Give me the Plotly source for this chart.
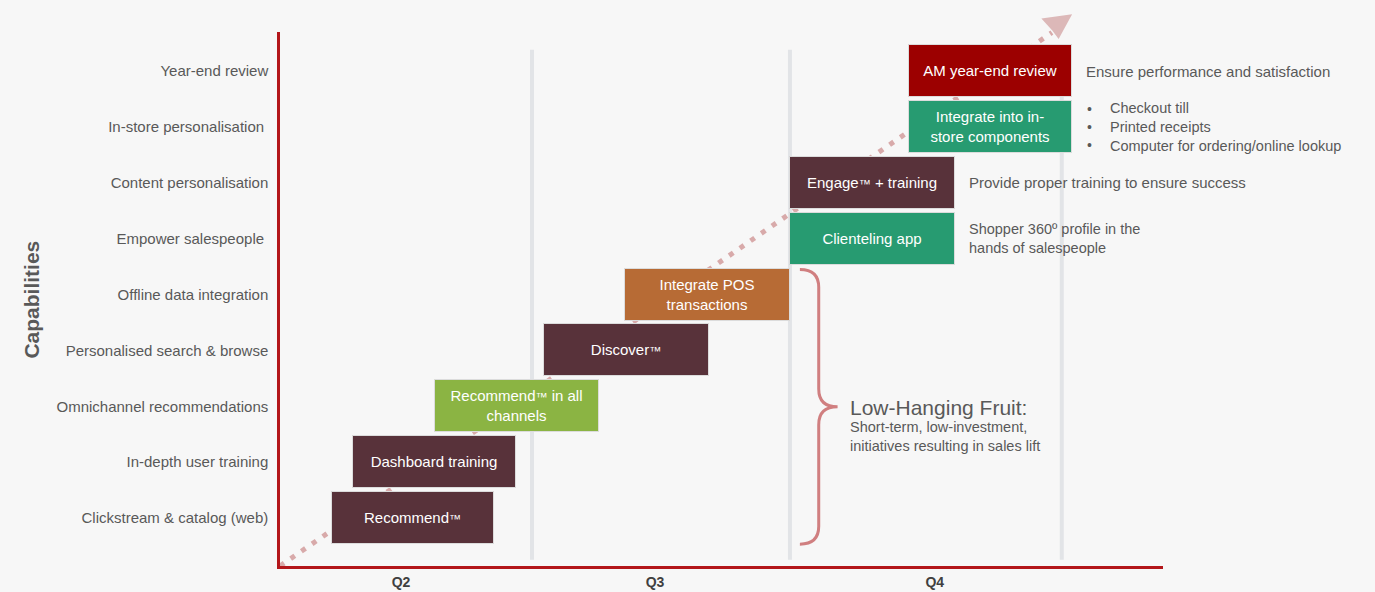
import plotly.graph_objects as go

# ---------------- data ----------------
TM = '<span style="font-size:12px">\u2122</span>'
capabilities = [
    "Clickstream & catalog (web)",
    "In-depth user training",
    "Omnichannel recommendations",
    "Personalised search & browse",
    "Offline data integration",
    "Empower salespeople\u00a0",
    "Content personalisation",
    "In-store personalisation\u00a0",
    "Year-end review",
]
initiatives = [
    f"Recommend{TM}",
    "Dashboard training",
    f"Recommend{TM} in all<br>channels",
    f"Discover{TM}",
    "Integrate POS<br>transactions",
    "Clienteling app",
    f"Engage{TM} + training",
    "Integrate into in-<br>store components",
    "AM year-end review",
]
# timeline in weeks from start of Q2
start_week = [2.6, 3.7, 7.8, 13.3, 17.4, 25.7, 25.7, 31.7, 31.7]
end_week = [10.8, 11.9, 16.1, 21.6, 25.7, 34.0, 34.0, 39.9, 39.9]
quarter_labels = ["Q2", "Q3", "Q4"]
quarter_label_week = [6.1, 18.9, 33.0]
quarter_boundary_week = [12.7, 25.7, 39.4]

bar_colors = ["#58323a", "#58323a", "#8bb443", "#58323a", "#b76b35",
              "#279b71", "#58323a", "#279b71", "#9c0000"]

FONT = "Liberation Sans, Arial, sans-serif"
GREY = "#595959"
xr = [0, 44.5]
yr = [-0.86, 8.70]


def xp(x):
    return (x - xr[0]) / (xr[1] - xr[0])


def yp(y):
    return (y - yr[0]) / (yr[1] - yr[0])


rows = list(range(len(capabilities)))
fig = go.Figure()
fig.add_trace(go.Bar(
    orientation="h",
    y=rows,
    base=start_week,
    x=[e - s for s, e in zip(start_week, end_week)],
    width=0.93,
    marker=dict(color=bar_colors, line=dict(color="#dcdcdc", width=1)),
    text=initiatives,
    textposition="inside",
    insidetextanchor="middle",
    textangle=0,
    constraintext="none",
    textfont=dict(color="white", size=15, family=FONT),
    hoverinfo="skip",
    showlegend=False,
))

shapes = []
# quarter separators
for b in quarter_boundary_week:
    shapes.append(dict(type="line", xref="x", yref="y", x0=b, x1=b, y0=-0.75, y1=8.38,
                       line=dict(color="#e2e4e7", width=4), layer="below"))
# dotted growth arrow
shapes.append(dict(type="line", xref="paper", yref="paper",
                   x0=xp(0), y0=yp(-0.86), x1=xp(38.9), y1=yp(8.69),
                   line=dict(color="#d8aaaa", width=5, dash="5px,8px"), layer="below"))
# arrow head (stealth shape)
head = [(39.92, 9.02), (38.37, 8.943), (38.91, 8.73), (39.24, 8.573)]
head_path = "M " + " L ".join(f"{xp(x):.5f},{yp(y):.5f}" for x, y in head) + " Z"
shapes.append(dict(type="path", xref="paper", yref="paper", path=head_path,
                   fillcolor="#dcb8b8", line=dict(width=0)))
# curly brace
bx0, bx1, bx2 = 26.2, 27.15, 28.1
yt, ym, yb = 4.45, 1.99, -0.47
d = 0.32
brace = (f"M {bx0},{yt} Q {bx1},{yt} {bx1},{yt - d} L {bx1},{ym + d} "
         f"Q {bx1},{ym} {bx2},{ym} Q {bx1},{ym} {bx1},{ym - d} "
         f"L {bx1},{yb + d} Q {bx1},{yb} {bx0},{yb}")
shapes.append(dict(type="path", xref="x", yref="y", path=brace,
                   line=dict(color="#d07f80", width=3)))

annotations = []
# y title
annotations.append(dict(xref="paper", yref="paper", x=(18 - 280) / 883, y=yp(3.9),
                        text="<b>Capabilities</b>", textangle=-90, showarrow=False,
                        font=dict(size=21, color=GREY, family=FONT)))


# right side notes
def note(x, y, text, size=15, anchor="left"):
    annotations.append(dict(xref="x", yref="y", x=x, y=y, text=text, showarrow=False,
                            xanchor=anchor, yanchor="middle", align="left",
                            font=dict(size=size, color=GREY, family=FONT)))


note(40.5, 8, "Ensure performance and satisfaction")
note(40.55, 7.0, "\u2022<br>\u2022<br>\u2022", size=14)
note(41.75, 7.0, "Checkout till<br>Printed receipts<br>Computer for ordering/online lookup", size=14.5)
note(34.6, 6, "Provide proper training to ensure success")
note(34.6, 5.0, "Shopper 360\u00ba profile in the<br>hands of salespeople", size=14.5)
note(28.6, 1.97, "Low-Hanging Fruit:", size=21)
note(28.6, 1.45, "Short-term, low-investment,<br>initiatives resulting in sales lift", size=14.5)

fig.update_layout(
    width=1375, height=592,
    margin=dict(l=280, r=212, t=32, b=26, autoexpand=False),
    paper_bgcolor="#f7f7f7", plot_bgcolor="#f7f7f7",
    font=dict(family=FONT, color=GREY, size=15),
    shapes=shapes, annotations=annotations,
    bargap=0, showlegend=False,
    xaxis=dict(range=xr, showgrid=False, zeroline=False, showline=True,
               linecolor="#b3161a", linewidth=2.5, automargin=False,
               tickvals=quarter_label_week, ticktext=[f"<b>{q}</b>" for q in quarter_labels],
               ticks="outside", ticklen=1, tickcolor="rgba(0,0,0,0)",
               tickfont=dict(size=14, color="#404040", family=FONT)),
    yaxis=dict(range=yr, showgrid=False, zeroline=False, showline=True,
               linecolor="#b3161a", linewidth=2.5, automargin=False,
               tickvals=rows, ticktext=capabilities,
               ticks="outside", ticklen=6, tickcolor="rgba(0,0,0,0)",
               tickfont=dict(size=15, color=GREY, family=FONT)),
)

fig.write_html("out.html")
